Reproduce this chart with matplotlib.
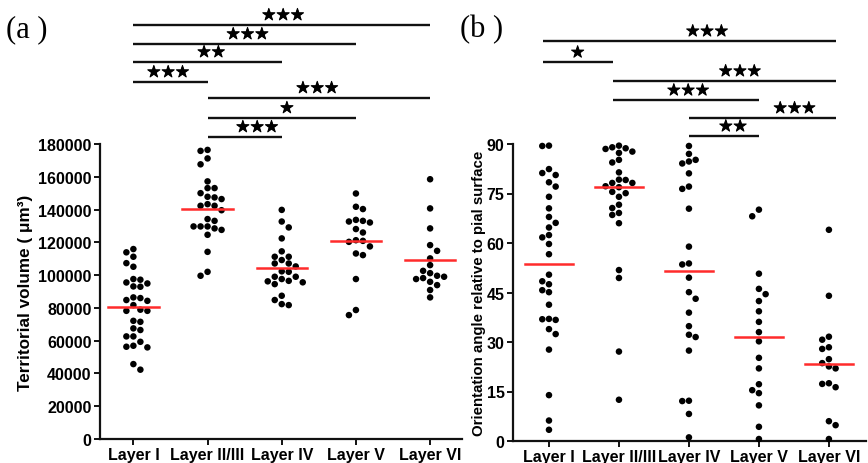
import numpy as np
import matplotlib
matplotlib.use('Agg')
import matplotlib.pyplot as plt
import matplotlib.patheffects as pe

# ---------------- data ----------------
categories = ['Layer I', 'Layer II/III', 'Layer IV', 'Layer V', 'Layer VI']

vol_layer1 = [115900, 113900, 111200, 107300, 105100, 97600, 97200, 95500, 94900, 93100,
              92900, 86400, 86000, 84800, 84300, 81700, 78900, 78200, 78200, 72100,
              71500, 67500, 66500, 62600, 62600, 59300, 56900, 56300, 55900, 45700, 42300]
vol_layer23 = [176400, 175800, 171200, 167600, 157200, 153100, 153100, 150000, 147800, 147400,
               146400, 143300, 142300, 142300, 139600, 134200, 133100, 129700, 129700, 129700,
               128500, 127600, 124600, 114200, 102000, 99600]
vol_layer4 = [139800, 132700, 129100, 122400, 114500, 111200, 111200, 109200, 107100, 107100,
              105300, 102300, 102000, 99000, 99000, 97600, 96500, 96200, 95600, 94500,
              87400, 84800, 82300, 81700]
vol_layer5 = [149800, 141700, 140300, 133700, 133100, 132700, 132100, 128100, 126000, 121300,
              120900, 120300, 117500, 113200, 112200, 97600, 78700, 75600]
vol_layer6 = [158500, 140700, 128500, 118300, 114800, 110200, 106100, 102600, 101200, 99600,
              99000, 98200, 97600, 95900, 93900, 90900, 86400]
vol_medians = [80700, 140600, 104300, 120800, 109000]

ang_layer1 = [89.5, 89.4, 82.4, 81.2, 80.6, 78.4, 77.1, 74.0, 70.5, 67.9, 66.1, 64.7, 62.4,
              61.7, 59.7, 56.6, 50.4, 48.4, 47.5, 45.7, 45.1, 41.3, 37.0, 36.9, 36.7, 33.9,
              32.4, 27.7, 13.9, 6.2, 3.4]
ang_layer23 = [89.5, 89.0, 88.7, 88.5, 87.7, 87.3, 85.2, 84.4, 81.4, 79.2, 79.1, 78.2, 78.2,
               77.2, 76.9, 75.5, 75.1, 74.0, 71.6, 70.6, 69.1, 68.5, 66.0, 51.8, 49.4, 27.1, 12.5]
ang_layer4 = [89.4, 87.0, 85.2, 84.7, 84.1, 81.1, 77.1, 76.4, 70.4, 58.9, 53.8, 53.5, 49.5,
              45.1, 43.1, 38.9, 34.8, 32.2, 31.5, 27.4, 12.2, 12.1, 8.2, 1.1]
ang_layer5 = [70.1, 68.1, 50.7, 46.1, 44.5, 42.4, 39.3, 36.1, 33.0, 30.2, 25.2, 22.0, 17.2,
              15.4, 14.5, 10.8, 4.3, 0.6]
ang_layer6 = [64.0, 44.0, 31.6, 30.7, 28.4, 27.9, 24.8, 23.6, 22.6, 22.0, 17.5, 17.3, 16.3,
              6.0, 4.8, 0.6]
ang_medians = [53.6, 77.0, 51.4, 31.6, 23.3]

vol_ticks = [0, 20000, 40000, 60000, 80000, 100000, 120000, 140000, 160000, 180000]
ang_ticks = [0, 15, 30, 45, 60, 75, 90]

# brackets: (start idx, end idx, height in data units, label, label x)
brackets_a = [
    (0, 4, 252600, '★★★', 2.02),
    (0, 3, 241000, '★★★', 1.54),
    (0, 2, 230000, '★★', 1.05),
    (0, 1, 217800, '★★★', 0.47),
    (1, 4, 208100, '★★★', 2.48),
    (1, 3, 195900, '★', 2.07),
    (1, 2, 184300, '★★★', 1.67),
]
brackets_b = [
    (-0.09, 4.1, 121.2, '★★★', 2.26),
    (-0.09, 0.91, 114.8, '★', 0.41),
    (0.91, 4.1, 109.1, '★★★', 2.73),
    (0.91, 3.0, 103.3, '★★★', 1.99),
    (2.0, 4.1, 97.9, '★★★', 3.51),
    (2.0, 3.0, 92.4, '★★', 2.63),
]

# ---------------- figure ----------------
fig = plt.figure(figsize=(8.68, 4.64), dpi=100)
W, H = 868, 464

def add_axes_px(left, top, right, bottom):
    return fig.add_axes([left / W, 1 - bottom / H, (right - left) / W, (bottom - top) / H])

ax_a = add_axes_px(100, 145, 462, 440)
ax_b = add_axes_px(513, 145, 866, 442)

SANS = 'Liberation Sans'


def swarm(ax, xpos, values, step_px=7.0, min_dist=6.6):
    values = np.asarray(values, dtype=float)
    pts = ax.transData.transform(np.column_stack([np.full(len(values), xpos), values]))
    order = np.argsort(-values)
    placed = []
    out = np.zeros_like(pts)
    for n, i in enumerate(order):
        x0, y0 = pts[i]
        ks = [0]
        for k in range(1, 6):
            ks += [k, -k] if n % 2 == 0 else [-k, k]
        chosen = x0
        for k in ks:
            x = x0 + k * step_px
            if all((x - px) ** 2 + (y0 - py) ** 2 >= min_dist ** 2 for px, py in placed):
                chosen = x
                break
        placed.append((chosen, y0))
        out[i] = (chosen, y0)
    data = ax.transData.inverted().transform(out)
    ax.scatter(data[:, 0], data[:, 1], s=22, color='black', edgecolors='none',
               zorder=3, clip_on=False)


def style_axis(ax, xlim, ylim, yticks, ylabel, ylabel_x, ylabel_size):
    ax.set_xlim(*xlim)
    ax.set_ylim(*ylim)
    ax.set_yticks(yticks)
    ax.set_yticklabels([str(t) for t in yticks])
    ax.set_xticks(range(len(categories)))
    ax.set_xticklabels(categories)
    for s in ['top', 'right']:
        ax.spines[s].set_visible(False)
    for s in ['left', 'bottom']:
        ax.spines[s].set_linewidth(1.6)
        ax.spines[s].set_color('#111111')
    ax.tick_params(direction='out', length=4, width=1.4, colors='#111111', pad=2)
    for lab in ax.get_xticklabels() + ax.get_yticklabels():
        lab.set_fontfamily(SANS)
        lab.set_fontweight('bold')
        lab.set_fontsize(11.5)
        lab.set_color('black')
    ax.set_ylabel(ylabel, fontfamily=SANS, fontweight='bold', fontsize=ylabel_size)
    ax.yaxis.set_label_coords(ylabel_x, 0.5)


style_axis(ax_a, (-0.45, 4.43), (0, 180000), vol_ticks,
           'Territorial volume ( μm³)', -0.185, 12.3)
style_axis(ax_b, (-0.514, 4.53), (0, 90), ang_ticks,
           'Orientation angle relative to pial surface', -0.076, 10.8)

vol_data = [vol_layer1, vol_layer23, vol_layer4, vol_layer5, vol_layer6]
ang_data = [ang_layer1, ang_layer23, ang_layer4, ang_layer5, ang_layer6]

for i, vals in enumerate(vol_data):
    swarm(ax_a, i, vals, step_px=7.0)
    ax_a.plot([i - 0.34, i + 0.34], [vol_medians[i]] * 2, color='#ff2b2b', lw=1.8, zorder=4)

for i, vals in enumerate(ang_data):
    swarm(ax_b, i, vals, step_px=6.7)
    ax_b.plot([i - 0.34, i + 0.34], [ang_medians[i]] * 2, color='#ff2b2b', lw=1.8, zorder=4)


def draw_brackets(ax, brackets, text_offset):
    for x0, x1, y, lab, lx in brackets:
        ax.plot([x0, x1], [y, y], color='#111111', lw=1.7, clip_on=False,
                solid_capstyle='butt')
        ax.text(lx, y + text_offset, lab, ha='center', va='bottom',
                fontsize=11.5, fontfamily='DejaVu Sans', color='black', clip_on=False,
                path_effects=[pe.withStroke(linewidth=0.7, foreground='black')])


draw_brackets(ax_a, brackets_a, 1300)
draw_brackets(ax_b, brackets_b, 0.6)

fig.text(6 / W, 1 - 30 / H, '(a )', fontfamily='Liberation Serif', fontsize=22,
         ha='left', va='center')
fig.text(460 / W, 1 - 30 / H, '(b )', fontfamily='Liberation Serif', fontsize=22,
         ha='left', va='center')

fig.savefig('out.png', dpi=100)
